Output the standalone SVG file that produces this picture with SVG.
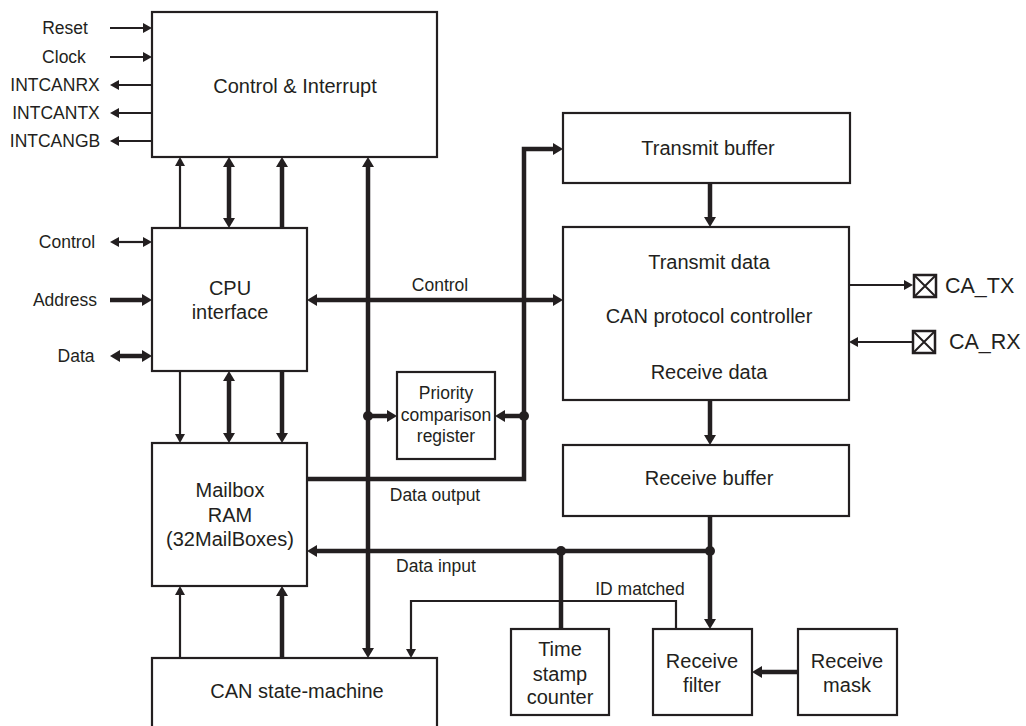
<svg xmlns="http://www.w3.org/2000/svg" width="1026" height="726" viewBox="0 0 1026 726">
<style>
.box{fill:#fff;stroke:#231f20;stroke-width:2.2}
.t{font-family:"Liberation Sans",Arial,sans-serif;fill:#231f20;text-anchor:middle}
.big{font-size:20px}
.sm{font-size:17.5px}
.pin{font-size:21.5px;text-anchor:start}
.thin{fill:none;stroke:#231f20;stroke-width:2.2}
.thick{fill:none;stroke:#231f20;stroke-width:4.5;stroke-linejoin:miter}
.a1e{marker-end:url(#a1)}
.a1b{marker-start:url(#a1);marker-end:url(#a1)}
.a2e{marker-end:url(#a2)}
.a2b{marker-start:url(#a2);marker-end:url(#a2)}
.dot{fill:#231f20}
</style>
<defs>
<marker id="a1" markerUnits="userSpaceOnUse" markerWidth="9" markerHeight="10" refX="3" refY="5" orient="auto-start-reverse" overflow="visible"><path d="M0,0 L9,5 L0,10 z" fill="#231f20"/></marker>
<marker id="a2" markerUnits="userSpaceOnUse" markerWidth="10" markerHeight="12" refX="4" refY="6" orient="auto-start-reverse" overflow="visible"><path d="M0,0 L10,6 L0,12 z" fill="#231f20"/></marker>
</defs>
<rect width="1026" height="726" fill="#fff"/>

<g id="connectors">
<path class="thin a1e" d="M110,28 L146,28"/>
<path class="thin a1e" d="M110,57 L146,57"/>
<path class="thin a1e" d="M152,85 L116,85"/>
<path class="thin a1e" d="M152,113 L116,113"/>
<path class="thin a1e" d="M152,141 L116,141"/>
<path class="thin a1b" d="M116,242 L146,242"/>
<path class="thick a2e" d="M110,300 L146,300"/>
<path class="thick a2b" d="M116,356 L146,356"/>
<path class="thin a1e" d="M180,228 L180,163"/>
<path class="thick a2b" d="M229,222 L229,163"/>
<path class="thick a2e" d="M282,228 L282,163"/>
<path class="thin a1e" d="M180,371 L180,437"/>
<path class="thick a2b" d="M229,377 L229,437"/>
<path class="thick a2e" d="M282,371 L282,437"/>
<path class="thin a1e" d="M180,658 L180,592"/>
<path class="thick a2e" d="M282,658 L282,592"/>
<path class="thick a2b" d="M368,652 L368,163"/>
<path class="thick a2b" d="M313,300 L557,300"/>
<path class="thick a2e" d="M368,416 L391,416"/>
<path class="thick a2e" d="M524,416 L501,416"/>
<path class="thick a2e" d="M307,479 L524,479 L524,149 L557,149"/>
<path class="thick a2e" d="M710,183 L710,221"/>
<path class="thick a2e" d="M710,400 L710,439"/>
<path class="thick a2e" d="M710,516 L710,623"/>
<path class="thick a2e" d="M710,551 L313,551"/>
<path class="thick" d="M561,551 L561,629"/>
<path class="thick a2e" d="M798,672 L758,672"/>
<path class="thin a1e" d="M676,629 L676,601 L411,601 L411,652"/>
<path class="thin a1e" d="M849,285 L907,285"/>
<path class="thin a1e" d="M912,342 L855,342"/>
<circle class="dot" cx="368" cy="416" r="5"/>
<circle class="dot" cx="524" cy="416" r="5"/>
<circle class="dot" cx="561" cy="551" r="5"/>
<circle class="dot" cx="710" cy="551" r="5"/>
<text class="t sm" x="440" y="291">Control</text>
<text class="t sm" x="435" y="501">Data output</text>
<text class="t sm" x="436" y="572">Data input</text>
<text class="t sm" x="640" y="595">ID matched</text>
</g>

<g id="labels-left">
<text class="t sm" x="65" y="34">Reset</text>
<text class="t sm" x="64" y="63">Clock</text>
<text class="t sm" x="55" y="91">INTCANRX</text>
<text class="t sm" x="56" y="119">INTCANTX</text>
<text class="t sm" x="55" y="147">INTCANGB</text>
<text class="t sm" x="67" y="248">Control</text>
<text class="t sm" x="65" y="306">Address</text>
<text class="t sm" x="76" y="362">Data</text>
</g>

<g id="control-interrupt">
<rect class="box" x="152" y="12" width="285" height="145"/>
<text class="t big" x="295" y="93">Control &amp; Interrupt</text>
</g>
<g id="cpu-interface">
<rect class="box" x="152" y="228" width="155" height="143"/>
<text class="t big" x="230" y="295">CPU</text>
<text class="t big" x="230" y="319">interface</text>
</g>
<g id="mailbox-ram">
<rect class="box" x="152" y="443" width="155" height="143"/>
<text class="t big" x="230" y="497">Mailbox</text>
<text class="t big" x="230" y="522">RAM</text>
<text class="t big" x="230" y="546">(32MailBoxes)</text>
</g>
<g id="can-state-machine">
<rect class="box" x="152" y="658" width="285" height="90"/>
<text class="t big" x="297" y="698">CAN state-machine</text>
</g>
<g id="priority-register">
<rect class="box" x="397" y="372" width="98" height="87"/>
<text class="t sm" x="446" y="399">Priority</text>
<text class="t sm" x="446" y="421">comparison</text>
<text class="t sm" x="446" y="442">register</text>
</g>
<g id="transmit-buffer">
<rect class="box" x="563" y="113" width="287" height="70"/>
<text class="t big" x="708" y="155">Transmit buffer</text>
</g>
<g id="can-protocol-controller">
<rect class="box" x="563" y="227" width="286" height="173"/>
<text class="t big" x="709" y="269">Transmit data</text>
<text class="t big" x="709" y="323">CAN protocol controller</text>
<text class="t big" x="709" y="379">Receive data</text>
</g>
<g id="receive-buffer">
<rect class="box" x="563" y="445" width="286" height="71"/>
<text class="t big" x="709" y="485">Receive buffer</text>
</g>
<g id="time-stamp-counter">
<rect class="box" x="511" y="629" width="98" height="86"/>
<text class="t big" x="560" y="656">Time</text>
<text class="t big" x="560" y="681">stamp</text>
<text class="t big" x="560" y="704">counter</text>
</g>
<g id="receive-filter">
<rect class="box" x="653" y="629" width="99" height="86"/>
<text class="t big" x="702" y="668">Receive</text>
<text class="t big" x="702" y="692">filter</text>
</g>
<g id="receive-mask">
<rect class="box" x="798" y="629" width="99" height="86"/>
<text class="t big" x="847" y="668">Receive</text>
<text class="t big" x="847" y="692">mask</text>
</g>
<g id="ca-tx">
<rect x="914" y="275" width="22" height="22" fill="#fff" stroke="#231f20" stroke-width="2.5"/>
<path d="M914,275 L936,297 M936,275 L914,297" stroke="#231f20" stroke-width="2"/>
<text class="t pin" x="945" y="293">CA_TX</text>
</g>
<g id="ca-rx">
<rect x="913" y="331" width="22" height="22" fill="#fff" stroke="#231f20" stroke-width="2.5"/>
<path d="M913,331 L935,353 M935,331 L913,353" stroke="#231f20" stroke-width="2"/>
<text class="t pin" x="949" y="349">CA_RX</text>
</g>
</svg>
